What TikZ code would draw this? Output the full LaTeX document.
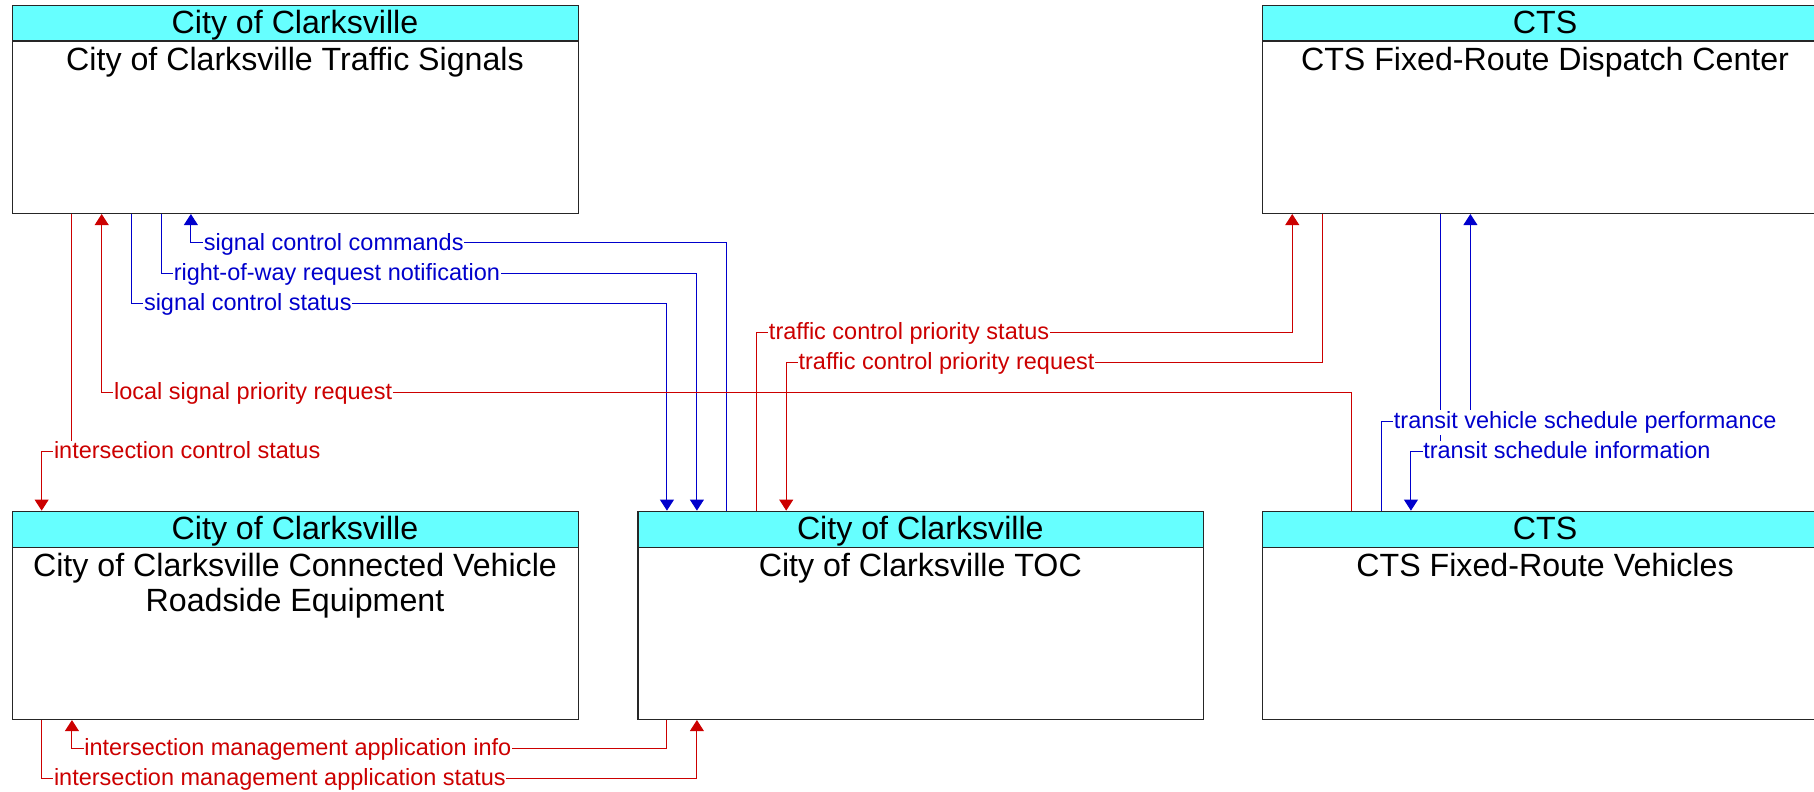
\documentclass[tikz,border=0pt]{standalone}
\usepackage{fontspec}
\setmainfont{Liberation Sans}
\usetikzlibrary{arrows.meta}
\definecolor{hdrcyan}{RGB}{102,255,255}
\definecolor{fblue}{RGB}{0,0,204}
\definecolor{fred}{RGB}{204,0,0}
\newcommand{\boxfont}{\fontsize{27.8}{30}\selectfont}
\newcommand{\flowfont}{\fontsize{20.3}{22}\selectfont}
\tikzset{
  body/.style={draw=black!85, line width=1pt, fill=white, minimum width=489pt, minimum height=180pt, inner sep=0pt, anchor=north west},
  head/.style={draw=black!85, line width=1pt, fill=hdrcyan, minimum width=489pt, minimum height=31pt, inner sep=0pt, anchor=north west},
  boxtext/.style={font=\boxfont, anchor=base, inner sep=0pt},
  bflow/.style={draw=fblue, line width=0.9pt},
  rflow/.style={draw=fred, line width=0.9pt},
  tip/.style={-{Triangle[length=9.5pt,width=12pt]}},
  blab/.style={font=\flowfont, text=fblue, fill=white, inner xsep=0.5pt, inner ysep=1pt, anchor=base west},
  rlab/.style={font=\flowfont, text=fred, fill=white, inner xsep=0.5pt, inner ysep=1pt, anchor=base west},
}
\begin{document}
\begin{tikzpicture}[x=1pt,y=-1pt]
\useasboundingbox (0,0) rectangle (1568,684);
\clip (0,0) rectangle (1568,684);
% boxes
\node[body] (ts) at (10.5,4) {};
\node[head] (tsh) at (10.5,4) {};
\node[boxtext] (tsh-t) at (255,29) {City of Clarksville};
\node[boxtext] (ts-t) at (255,61) {City of Clarksville Traffic Signals};

\node[body] (dc) at (1091,4) {};
\node[head] (dch) at (1091,4) {};
\node[boxtext] (dch-t) at (1335.5,29) {CTS};
\node[boxtext] (dc-t) at (1335.5,61) {CTS Fixed-Route Dispatch Center};

\node[body] (rse) at (10.5,441.4) {};
\node[head] (rseh) at (10.5,441.4) {};
\node[boxtext] (rseh-t) at (255,466.4) {City of Clarksville};
\node[boxtext] (rse-t1) at (255,498.4) {City of Clarksville Connected Vehicle};
\node[boxtext] (rse-t2) at (255,528.4) {Roadside Equipment};

\node[body] (toc) at (551,441.4) {};
\node[head] (toch) at (551,441.4) {};
\node[boxtext] (toch-t) at (795.5,466.4) {City of Clarksville};
\node[boxtext] (toc-t) at (795.5,498.4) {City of Clarksville TOC};

\node[body] (veh) at (1091,441.4) {};
\node[head] (vehh) at (1091,441.4) {};
\node[boxtext] (vehh-t) at (1335.5,466.4) {CTS};
\node[boxtext] (veh-t) at (1335.5,498.4) {CTS Fixed-Route Vehicles};

% connectors
\draw[bflow,tip] (628,0 |- toch.north) |- (165,210) -- (165,0 |- ts.south);
\draw[bflow,tip] (139.5,0 |- ts.south) |- (602.4,236) -- (602.4,0 |- toch.north);
\draw[bflow,tip] (113.8,0 |- ts.south) |- (576.5,262) -- (576.5,0 |- toch.north);
\draw[rflow,tip] (654,0 |- toch.north) |- (1117,287) -- (1117,0 |- dc.south);
\draw[rflow,tip] (1143,0 |- dc.south) |- (679.6,313) -- (679.6,0 |- toch.north);
\draw[rflow,tip] (1168.3,0 |- vehh.north) |- (87.9,339) -- (87.9,0 |- ts.south);
\draw[rflow,tip] (62.2,0 |- ts.south) |- (36,390) -- (36,0 |- rseh.north);
\draw[rflow,tip] (576.5,0 |- toc.south) |- (62.2,646.8) -- (62.2,0 |- rse.south);
\draw[rflow,tip] (36,0 |- rse.south) |- (602.4,672.7) -- (602.4,0 |- toc.south);
\draw[bflow,tip] (1194.2,0 |- vehh.north) |- (1271,364) -- (1271,0 |- dc.south);
\draw[bflow,tip] (1245,0 |- dc.south) |- (1219.6,390) -- (1219.6,0 |- vehh.north);

% labels
\node[blab] (l1) at (175.5,216.5) {signal control commands};
\node[blab] (l2) at (149.5,242.5) {right-of-way request notification};
\node[blab] (l3) at (123.8,268.5) {signal control status};
\node[rlab] (l4) at (664,293.5) {traffic control priority status};
\node[rlab] (l5) at (689.6,319.5) {traffic control priority request};
\node[rlab] (l6) at (97.9,345.5) {local signal priority request};
\node[rlab] (l7) at (46,396.5) {intersection control status};
\node[rlab] (l8) at (72.2,653.3) {intersection management application info};
\node[rlab] (l9) at (46,679.2) {intersection management application status};
\node[blab] (l10) at (1204.2,370.5) {transit vehicle schedule performance};
\node[blab] (l11) at (1229.6,396.5) {transit schedule information};
\end{tikzpicture}
\end{document}
